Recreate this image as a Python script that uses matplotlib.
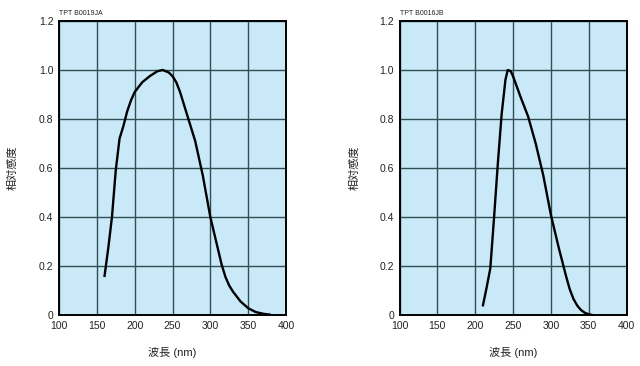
import matplotlib
matplotlib.use("Agg")
import matplotlib.pyplot as plt
import numpy as np

plt.rcParams['font.family'] = ['Liberation Sans', 'Noto Sans CJK JP', 'DejaVu Sans']

# Left chart: TPT B0019JA
wl_a = [160, 165, 170, 175, 180, 185, 190, 195, 200, 210, 220, 230, 237, 245, 250,
        255, 260, 270, 280, 290, 300, 310, 315, 320, 325, 330, 340, 350, 360, 370, 380]
resp_a = [0.155, 0.27, 0.40, 0.59, 0.72, 0.77, 0.83, 0.875, 0.91, 0.95, 0.975, 0.995,
          1.0, 0.99, 0.975, 0.95, 0.91, 0.81, 0.71, 0.57, 0.40, 0.27, 0.205, 0.155,
          0.12, 0.095, 0.055, 0.028, 0.012, 0.005, 0.001]

# Right chart: TPT B0016JB
wl_b = [210, 215, 220, 225, 230, 235, 240, 243, 247, 250, 260, 270, 280, 290, 300,
        310, 320, 325, 330, 335, 340, 345, 350, 355]
resp_b = [0.035, 0.11, 0.19, 0.40, 0.62, 0.82, 0.96, 1.0, 0.995, 0.975, 0.89, 0.81,
          0.70, 0.57, 0.41, 0.28, 0.16, 0.105, 0.065, 0.038, 0.02, 0.009, 0.003, 0.0]

codes = ["TPT B0019JA", "TPT B0016JB"]
xticks = [100, 150, 200, 250, 300, 350, 400]
yticks = [0, 0.2, 0.4, 0.6, 0.8, 1.0, 1.2]
yticklabels = ["0", "0.2", "0.4", "0.6", "0.8", "1.0", "1.2"]
xlabel = "波長 (nm)"
ylabel = "相対感度"

fig = plt.figure(figsize=(6.4, 3.66), dpi=100)
W, H = 640, 366
rects = [(59, 21, 227, 294), (399.5, 21, 227, 294)]
data = [(wl_a, resp_a), (wl_b, resp_b)]
ylabel_x = [13, 355]

for i, (r, (wl, resp)) in enumerate(zip(rects, data)):
    x0, y0, w, h = r
    ax = fig.add_axes([x0 / W, 1 - (y0 + h) / H, w / W, h / H])
    ax.set_facecolor('#c9e9f9')
    ax.set_xlim(100, 400)
    ax.set_ylim(0, 1.2)
    ax.set_xticks(xticks)
    ax.set_yticks(yticks)
    ax.set_yticklabels(yticklabels)
    ax.grid(True, color='#2f4f55', linewidth=1.0)
    ax.set_axisbelow(True)
    ax.tick_params(axis='x', length=0, labelsize=7.5, colors='#222222', pad=4)
    ax.tick_params(axis='y', length=0, labelsize=7.5, colors='#222222', pad=4)
    for s in ax.spines.values():
        s.set_linewidth(1.4)
        s.set_color('black')
    ax.plot(wl, resp, color='black', linewidth=1.7, solid_capstyle='butt',
            solid_joinstyle='round')
    ax.text(0.0, 1.012, codes[i], transform=ax.transAxes, fontsize=5,
            ha='left', va='bottom', color='#222222')
    fig.text((x0 + w / 2) / W, 1 - 352 / H, xlabel, ha='center', va='center',
             fontsize=8, color='#222222')
    fig.text(ylabel_x[i] / W, 1 - 168 / H, ylabel, ha='center', va='center',
             rotation=90, fontsize=8, color='#222222')

fig.savefig('out.png', dpi=100, facecolor='white')
